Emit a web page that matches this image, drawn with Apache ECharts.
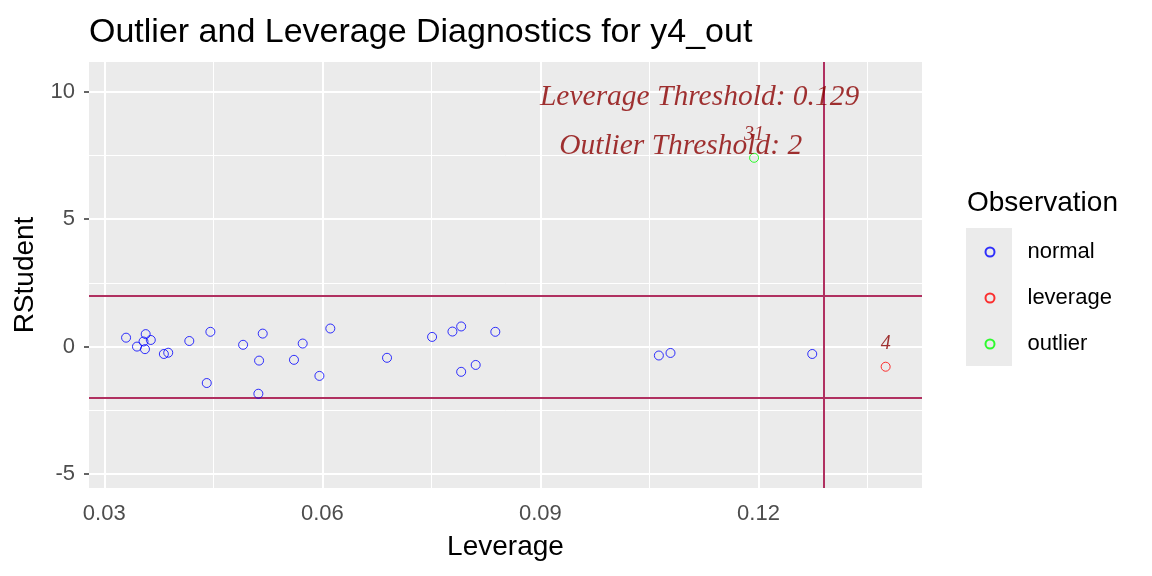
<!DOCTYPE html>
<html>
<head>
<meta charset="utf-8">
<script src="https://cdn.jsdelivr.net/npm/echarts@6/dist/echarts.min.js"></script>
<style>
  html, body { margin: 0; padding: 0; background: #fff; }
  #grafiek { width: 1152px; height: 576px; }
</style>
</head>
<body>
<div id="grafiek"></div>
<script>
// waarden
const normalLev = [0.0330, 0.0345, 0.0357, 0.0354, 0.0364, 0.0356, 0.0382, 0.0388, 0.0417, 0.0446,
                   0.0441, 0.0491, 0.0518, 0.0513, 0.0512, 0.0561, 0.0573, 0.0611, 0.0596, 0.0689,
                   0.0751, 0.0779, 0.0791, 0.0838, 0.0791, 0.0811, 0.1063, 0.1079, 0.1274];
const normalRst = [0.35, 0.00, 0.49, 0.20, 0.26, -0.10, -0.29, -0.24, 0.22, 0.58,
                   -1.43, 0.07, 0.51, -0.55, -1.85, -0.52, 0.12, 0.71, -1.15, -0.44,
                   0.38, 0.59, 0.79, 0.58, -0.99, -0.72, -0.35, -0.25, -0.29];
const leverageLev = [0.1375];
const leverageRst = [-0.79];
const leverageIds = ['4'];
const outlierLev = [0.1194];
const outlierRst = [7.41];
const outlierIds = ['31'];

const levThreshold = 0.129;
const rstThreshold = 2;

const xTicks = [0.03, 0.06, 0.09, 0.12];
const xMinor = [0.045, 0.075, 0.105, 0.135];
const yTicks = [-5, 0, 5, 10];
const yMinor = [-2.5, 2.5, 7.5];

const annotTexts = ['Leverage Threshold: 0.129', 'Outlier Threshold: 2'];
const annotLev = [0.1119, 0.1093];
const annotRst = [9.78, 7.85];

function punten(xs, ys, ids) {
    return xs.map((x, i) => ids ? [x, ys[i], ids[i]] : [x, ys[i]]);
}

function toonGrafiek() {
    let grafiek = echarts.init(document.getElementById('grafiek'));
    const font = 'Liberation Sans, Arial, sans-serif';
    const serif = 'Liberation Serif, Times New Roman, serif';
    const gridLijnen = [];
    xTicks.forEach(v => gridLijnen.push({ xAxis: v, lineStyle: { width: 2 } }));
    xMinor.forEach(v => gridLijnen.push({ xAxis: v, lineStyle: { width: 1 } }));
    yTicks.forEach(v => gridLijnen.push({ yAxis: v, lineStyle: { width: 2 } }));
    yMinor.forEach(v => gridLijnen.push({ yAxis: v, lineStyle: { width: 1 } }));

    let puntLabel = {
        show: true, position: 'top', distance: 8, formatter: p => p.data[2],
        fontFamily: serif, fontStyle: 'italic', fontSize: 20, color: '#8B0000'
    };

    let option = {
        backgroundColor: '#ffffff',
        animation: false,
        title: [{
            text: 'Outlier and Leverage Diagnostics for y4_out',
            left: 84, top: 11,
            textStyle: { fontFamily: font, fontSize: 34, fontWeight: 'normal', color: '#000' }
        }, {
            text: 'Observation',
            left: 962, top: 184,
            textStyle: { fontFamily: font, fontSize: 28, fontWeight: 'normal', color: '#000' }
        }],
        graphic: [{
            type: 'rect',
            shape: { x: 966, y: 228, width: 46, height: 138 },
            style: { fill: '#EBEBEB' },
            z: -1
        }],
        legend: {
            orient: 'vertical',
            left: 979.5, top: 236,
            itemWidth: 9, itemHeight: 9, itemGap: 24,
            data: ['normal', 'leverage', 'outlier'],
            textStyle: { fontFamily: font, fontSize: 22, color: '#000', padding: [0, 0, 0, 28] }
        },
        grid: {
            left: 89, right: 230, top: 62, bottom: 88,
            show: true, backgroundColor: '#EBEBEB', borderWidth: 0
        },
        xAxis: {
            type: 'value', min: 0.0279, max: 0.1425,
            name: 'Leverage', nameLocation: 'middle', nameGap: 45,
            nameTextStyle: { fontFamily: font, fontSize: 28, color: '#000' },
            axisLine: { show: false },
            axisTick: { show: true, customValues: xTicks, length: 5, lineStyle: { color: '#333', width: 1.5 } },
            axisLabel: { customValues: xTicks, margin: 15, fontFamily: font, fontSize: 22, color: '#4D4D4D' },
            splitLine: { show: false }
        },
        yAxis: {
            type: 'value', min: -5.55, max: 11.17,
            name: 'RStudent', nameLocation: 'middle', nameGap: 43,
            nameTextStyle: { fontFamily: font, fontSize: 28, color: '#000' },
            axisLine: { show: false },
            axisTick: { show: true, customValues: yTicks, length: 5, lineStyle: { color: '#333', width: 1.5 } },
            axisLabel: { customValues: yTicks, margin: 14, fontFamily: font, fontSize: 22, color: '#4D4D4D' },
            splitLine: { show: false }
        },
        series: [
            {
                // rasterlijnen
                type: 'scatter', data: [], silent: true, z: 0,
                markLine: {
                    silent: true, symbol: 'none', label: { show: false }, animation: false,
                    precision: 6, z: 1,
                    lineStyle: { color: '#FFFFFF', type: 'solid' },
                    data: gridLijnen
                }
            },
            {
                // drempellijnen
                type: 'scatter', data: [], silent: true, z: 1,
                markLine: {
                    silent: true, symbol: 'none', label: { show: false }, animation: false,
                    precision: 6, z: 2,
                    lineStyle: { color: '#B03060', type: 'solid', width: 2 },
                    data: [{ xAxis: levThreshold }, { yAxis: rstThreshold }, { yAxis: -rstThreshold }]
                }
            },
            {
                name: 'normal', type: 'scatter', symbol: 'circle', symbolSize: 9, z: 3,
                itemStyle: { color: 'transparent', borderColor: '#0000FF', borderWidth: 1 },
                data: punten(normalLev, normalRst)
            },
            {
                name: 'leverage', type: 'scatter', symbol: 'circle', symbolSize: 9, z: 3,
                itemStyle: { color: 'transparent', borderColor: '#FF0000', borderWidth: 1 },
                label: puntLabel,
                data: punten(leverageLev, leverageRst, leverageIds)
            },
            {
                name: 'outlier', type: 'scatter', symbol: 'circle', symbolSize: 9, z: 3,
                itemStyle: { color: 'transparent', borderColor: '#00FF00', borderWidth: 1 },
                label: puntLabel,
                data: punten(outlierLev, outlierRst, outlierIds)
            },
            {
                // tekst bij de drempels
                type: 'scatter', symbolSize: 0, silent: true, z: 4,
                label: {
                    show: true, position: 'inside', formatter: p => p.data[2],
                    fontFamily: serif, fontStyle: 'italic', fontSize: 29.5, color: '#8B0000'
                },
                data: annotLev.map((x, i) => [x, annotRst[i], annotTexts[i]])
            }
        ]
    };
    grafiek.setOption(option);
}

window.onload = function () {
    if (document.getElementById('grafiek')) {
        toonGrafiek();
    } else {
        console.error("Element #grafiek niet gevonden!");
    }
};
</script>
</body>
</html>
